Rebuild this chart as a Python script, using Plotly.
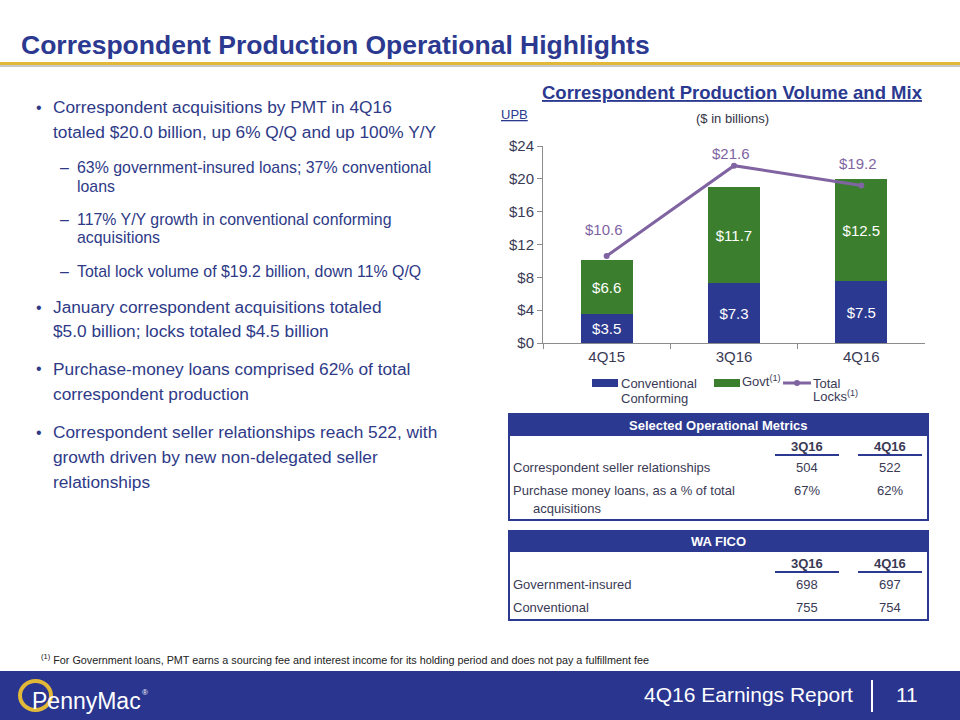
import plotly.graph_objects as go

# ---------------- data ----------------
categories = ["4Q15", "3Q16", "4Q16"]
conventional = [3.5, 7.3, 7.5]
govt = [6.6, 11.7, 12.5]
total_locks = [10.6, 21.6, 19.2]
y_tick_vals = [0, 4, 8, 12, 16, 20, 24]
y_tick_text = ["$0", "$4", "$8", "$12", "$16", "$20", "$24"]

metrics_cols = ["3Q16", "4Q16"]
metrics_rows = ["Correspondent seller relationships", "Purchase money loans, as a % of total"]
metrics_vals = [["504", "522"], ["67%", "62%"]]
fico_cols = ["3Q16", "4Q16"]
fico_rows = ["Government-insured", "Conventional"]
fico_vals = [["698", "697"], ["755", "754"]]

bullets = [
    (0, ["Correspondent acquisitions by PMT in 4Q16",
         "totaled $20.0 billion, up 6% Q/Q and up 100% Y/Y"]),
    (1, ["63% government-insured loans; 37% conventional", "loans"]),
    (1, ["117% Y/Y growth in conventional conforming", "acquisitions"]),
    (1, ["Total lock volume of $19.2 billion, down 11% Q/Q"]),
    (0, ["January correspondent acquisitions totaled",
         "$5.0 billion; locks totaled $4.5 billion"]),
    (0, ["Purchase-money loans comprised 62% of total",
         "correspondent production"]),
    (0, ["Correspondent seller relationships reach 522, with",
         "growth driven by new non-delegated seller", "relationships"]),
]

# ---------------- layout / style ----------------
W, H = 960, 720
FONT = "Arial, Liberation Sans, sans-serif"
NAVY = "#2B3990"
GREEN = "#3B7F2E"
PURPLE = "#8064A2"
GOLD = "#E2B838"
TXT = "#2E3A87"
GRAYTXT = "#3A3A55"

bullet_line_y = [[107, 132], [167, 187], [219, 238], [271], [307, 331], [369, 394], [432, 457, 482]]
lock_label_shift = [26, 12, 22]


def px(x):
    return x / W


def py(y):
    return 1 - y / H


annotations = []
shapes = []


def ann(text, x, y, size, color, xanchor="left", bold=False, family=FONT):
    if bold:
        text = "<b>" + text + "</b>"
    annotations.append(dict(text=text, x=px(x), y=py(y), xref="paper", yref="paper",
                            xanchor=xanchor, yanchor="middle", showarrow=False, borderpad=0,
                            font=dict(size=size, color=color, family=family)))


def rect(x0, y0, x1, y1, fill=None, line=None, lw=0):
    shapes.append(dict(type="rect", xref="paper", yref="paper",
                       x0=px(x0), x1=px(x1), y0=py(y1), y1=py(y0),
                       fillcolor=fill if fill else "rgba(0,0,0,0)",
                       line=dict(color=line if line else "rgba(0,0,0,0)", width=lw),
                       layer="below"))


def hline(x0, x1, y, color, lw):
    shapes.append(dict(type="line", xref="paper", yref="paper",
                       x0=px(x0), x1=px(x1), y0=py(y), y1=py(y),
                       line=dict(color=color, width=lw)))


fig = go.Figure()
fig.add_trace(go.Bar(x=categories, y=conventional, name="Conventional Conforming",
                     marker=dict(color=NAVY, line=dict(width=0)),
                     text=["$%.1f" % v for v in conventional], textposition="inside",
                     insidetextanchor="middle", textangle=0,
                     textfont=dict(color="white", size=15, family=FONT)))
fig.add_trace(go.Bar(x=categories, y=govt, name="Govt",
                     marker=dict(color=GREEN, line=dict(width=0)),
                     text=["$%.1f" % v for v in govt], textposition="inside",
                     insidetextanchor="middle", textangle=0,
                     textfont=dict(color="white", size=15, family=FONT)))
fig.add_trace(go.Scatter(x=categories, y=total_locks, name="Total Locks", mode="lines+markers",
                         line=dict(color=PURPLE, width=3), marker=dict(color=PURPLE, size=6)))

# line value labels from data
for c, v, s in zip(categories, total_locks, lock_label_shift):
    annotations.append(dict(text="$%.1f" % v, x=c, y=v, xref="x", yref="y", yshift=s, xshift=-3,
                            showarrow=False, font=dict(size=15, color=PURPLE, family=FONT)))

# ---------------- slide decorations ----------------
ann("Correspondent Production Operational Highlights", 20, 45, 26.5, NAVY, bold=True)
rect(0, 62, 960, 65, fill=GOLD)
rect(0, 65, 960, 67, fill="#C8C8C8")

# bullets
for (level, lines), ys in zip(bullets, bullet_line_y):
    if level == 0:
        ann("\u2022", 35, ys[0], 16, TXT)
        for t, y in zip(lines, ys):
            ann(t, 52, y, 17.3, TXT)
    else:
        ann("\u2013", 59, ys[0], 15.9, TXT)
        for t, y in zip(lines, ys):
            ann(t, 76, y, 15.9, TXT)

# chart titles
ann("<u>Correspondent Production Volume and Mix</u>", 732, 93, 18.5, NAVY, xanchor="center", bold=True)
ann("<u>UPB</u>", 500, 115, 13, NAVY)
ann("($ in billions)", 732, 119, 13, "#333344", xanchor="center")

# legend (manual)
rect(592, 379, 618, 387, fill=NAVY)
ann("Conventional", 620, 383, 13, GRAYTXT)
ann("Conforming", 620, 398, 13, GRAYTXT)
rect(714, 379, 740, 387, fill=GREEN)
ann("Govt<sup>(1)</sup>", 741, 381, 13, GRAYTXT)
hline(783, 811, 383, PURPLE, 3)
shapes.append(dict(type="circle", xref="paper", yref="paper", x0=px(794), x1=px(800),
                   y0=py(386), y1=py(380), fillcolor=PURPLE, line=dict(color=PURPLE, width=0)))
ann("Total", 812, 383, 13, GRAYTXT)
ann("Locks<sup>(1)</sup>", 812, 396, 13, GRAYTXT)

# table 1
col_x = [807, 890]
ul = [(775, 839), (858, 922)]
rect(509, 414, 928, 520, line=NAVY, lw=2)
rect(509, 414, 928, 436, fill=NAVY)
ann("Selected Operational Metrics", 718, 425, 13, "white", xanchor="center", bold=True)
for c, x, (a, b) in zip(metrics_cols, col_x, ul):
    ann(c, x, 446, 13, GRAYTXT, xanchor="center", bold=True)
    hline(a, b, 455, NAVY, 2)
row_y = [467, 490]
for r, vals, y in zip(metrics_rows, metrics_vals, row_y):
    ann(r, 512, y, 13, GRAYTXT)
    for v, x in zip(vals, col_x):
        ann(v, x, y, 13, GRAYTXT, xanchor="center")
ann("acquisitions", 532, 508, 13, GRAYTXT)

# table 2
rect(509, 531, 928, 620, line=NAVY, lw=2)
rect(509, 531, 928, 552, fill=NAVY)
ann("WA FICO", 718, 541, 13, "white", xanchor="center", bold=True)
for c, x, (a, b) in zip(fico_cols, col_x, ul):
    ann(c, x, 563, 13, GRAYTXT, xanchor="center", bold=True)
    hline(a, b, 572, NAVY, 2)
row_y2 = [584, 607]
for r, vals, y in zip(fico_rows, fico_vals, row_y2):
    ann(r, 512, y, 13, GRAYTXT)
    for v, x in zip(vals, col_x):
        ann(v, x, y, 13, GRAYTXT, xanchor="center")

# footnote
ann("<sup>(1)</sup> For Government loans, PMT earns a sourcing fee and interest income for its holding period and does not pay a fulfillment fee",
    40, 659, 10.8, "#222222")

# footer band
rect(0, 671, 960, 720, fill="#2A3590")
shapes.append(dict(type="circle", xref="paper", yref="paper", x0=px(20), x1=px(51),
                   y0=py(710), y1=py(681), line=dict(color="#E2B838", width=4)))
ann("PennyMac", 31, 701, 23, "white")
ann("\u00ae", 141, 692, 8, "white")
ann("4Q16 Earnings Report", 854, 694, 21, "white", xanchor="right")
shapes.append(dict(type="line", xref="paper", yref="paper", x0=px(872), x1=px(872),
                   y0=py(712), y1=py(680), line=dict(color="white", width=2)))
ann("11", 907, 694, 21, "white", xanchor="center")

fig.update_layout(
    width=W, height=H, margin=dict(l=0, r=0, t=0, b=0, pad=0, autoexpand=False),
    paper_bgcolor="white", plot_bgcolor="white",
    barmode="stack", bargap=0.59, showlegend=False,
    font=dict(family=FONT),
    xaxis=dict(domain=[px(543), px(925)], showline=True, linecolor="#8C8C8C", linewidth=1,
               ticks="outside", tickson="boundaries", ticklen=5, tickcolor="#8C8C8C",
               automargin=False,
               tickfont=dict(size=15, color=GRAYTXT), showgrid=False, fixedrange=True),
    yaxis=dict(domain=[py(343), py(146)], range=[0, 24], tickvals=y_tick_vals, ticktext=y_tick_text,
               showline=True, linecolor="#8C8C8C", linewidth=1, ticks="outside", ticklen=5,
               automargin=False,
               tickcolor="#8C8C8C", tickfont=dict(size=15, color=GRAYTXT), showgrid=False,
               zeroline=False, fixedrange=True),
    annotations=annotations, shapes=shapes,
)

post = ("document.documentElement.style.margin='0';document.body.style.margin='0';"
        "document.body.style.overflow='hidden';"
        "var d=document.querySelector('.plotly-graph-div');"
        "d.style.position='fixed';d.style.top='0px';d.style.left='0px';")
fig.write_html("out.html", config={"displayModeBar": False}, post_script=post)
